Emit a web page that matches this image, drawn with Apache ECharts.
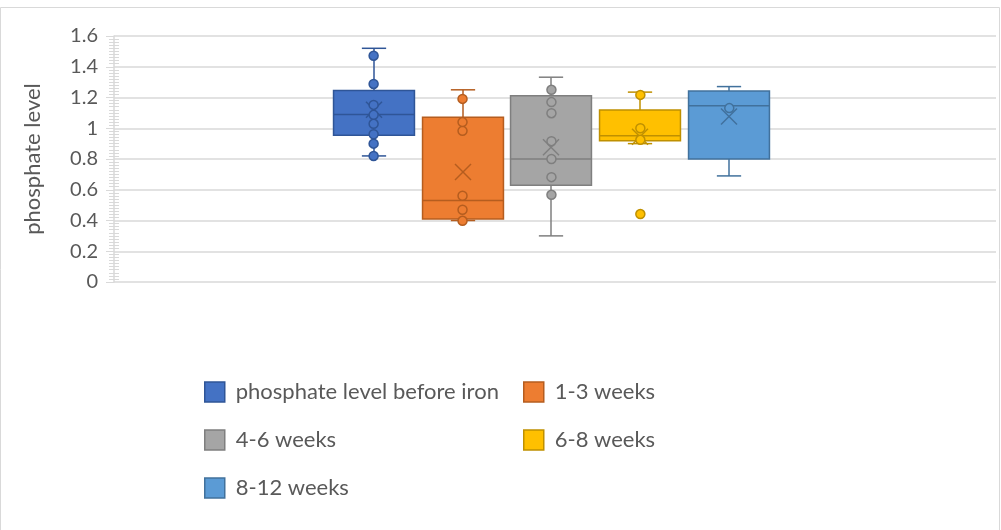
<!DOCTYPE html>
<html>
<head>
<meta charset="utf-8">
<script src="https://cdn.jsdelivr.net/npm/echarts@6/dist/echarts.min.js"></script>
<style>
  html, body { margin: 0; padding: 0; background: #ffffff; }
  #chart { width: 1001px; height: 530px; }
</style>
</head>
<body>
<div id="chart"></div>
<script>
// Groups (one box each)
const groups = ['phosphate level before iron', '1-3 weeks', '4-6 weeks', '6-8 weeks', '8-12 weeks'];

// Box statistics per group
const whiskerLow  = [0.82, 0.40, 0.30, 0.90, 0.69];
const quartile1   = [0.955, 0.41, 0.63, 0.918, 0.80];
const medians     = [1.09, 0.53, 0.80, 0.951, 1.146];
const quartile3   = [1.245, 1.072, 1.211, 1.118, 1.243];
const whiskerHigh = [1.52, 1.25, 1.332, 1.235, 1.271];
const means       = [1.12, 0.715, 0.877, 0.945, 1.076];

// Individual readings shown as dots
const readings = [
  [0.82, 0.90, 0.961, 1.029, 1.087, 1.152, 1.288, 1.472],
  [0.398, 0.47, 0.561, 0.983, 1.04, 1.191],
  [0.567, 0.682, 0.80, 0.916, 1.098, 1.17, 1.25],
  [0.442, 0.925, 1.00, 1.217],
  [1.131]
];

// Y axis scale
const yMin = 0;
const yMax = 1.6;
const yStep = 0.2;

// Office palette: fills and darker outlines
const fills = ['#4472C4', '#ED7D31', '#A5A5A5', '#FFC000', '#5B9BD5'];
const edges = ['#2F5597', '#B55D1F', '#7F7F7F', '#BF9000', '#41719C'];

const FONT = 'Lato, "Open Sans", sans-serif';
const TEXT = '#595959';
const GRID = '#D9D9D9';

function renderBox(params, api) {
  const i = params.seriesIndex;
  const x = api.value(0);
  const lo = api.coord([x, api.value(1)]);
  const q1 = api.coord([x, api.value(2)]);
  const md = api.coord([x, api.value(3)]);
  const q3 = api.coord([x, api.value(4)]);
  const hi = api.coord([x, api.value(5)]);
  const mn = api.coord([x, api.value(6)]);
  const w = api.size([1, 0])[0] * 0.91;
  const cap = w * 0.3;
  const cx = Math.round(lo[0]);
  const stroke = { stroke: edges[i], lineWidth: 1.5 };
  const m = 8;
  return {
    type: 'group',
    children: [
      { type: 'line', shape: { x1: cx, y1: hi[1], x2: cx, y2: q3[1] }, style: stroke },
      { type: 'line', shape: { x1: cx, y1: q1[1], x2: cx, y2: lo[1] }, style: stroke },
      { type: 'line', shape: { x1: cx - cap / 2, y1: hi[1], x2: cx + cap / 2, y2: hi[1] }, style: stroke },
      { type: 'line', shape: { x1: cx - cap / 2, y1: lo[1], x2: cx + cap / 2, y2: lo[1] }, style: stroke },
      { type: 'rect', shape: { x: cx - w / 2, y: q3[1], width: w, height: q1[1] - q3[1] },
        style: { fill: fills[i], stroke: edges[i], lineWidth: 1.5 } },
      { type: 'line', shape: { x1: cx - w / 2, y1: md[1], x2: cx + w / 2, y2: md[1] }, style: stroke },
      { type: 'line', shape: { x1: cx - m, y1: mn[1] - m, x2: cx + m, y2: mn[1] + m }, style: stroke },
      { type: 'line', shape: { x1: cx - m, y1: mn[1] + m, x2: cx + m, y2: mn[1] - m }, style: stroke }
    ]
  };
}

const boxSeries = groups.map((name, i) => ({
  type: 'custom',
  name: name,
  renderItem: renderBox,
  itemStyle: { color: fills[i], borderColor: edges[i] },
  encode: { x: 0, y: [1, 2, 3, 4, 5, 6] },
  data: [[i, whiskerLow[i], quartile1[i], medians[i], quartile3[i], whiskerHigh[i], means[i]]],
  z: 2
}));

const dotSeries = groups.map((name, i) => ({
  type: 'scatter',
  name: name,
  symbol: 'circle',
  symbolSize: 9,
  itemStyle: { color: fills[i], borderColor: edges[i], borderWidth: 1.5, opacity: 1 },
  data: readings[i].map(v => [i, v]),
  z: 3,
  silent: true
}));

const legendItem = i => ({
  name: groups[i],
  itemStyle: { color: fills[i], borderColor: edges[i], borderWidth: 1.5 }
});

const legendCommon = {
  orient: 'vertical',
  top: 381,
  padding: 0,
  icon: 'rect',
  itemWidth: 20,
  itemHeight: 20,
  itemGap: 26,
  textStyle: { fontSize: 22, color: TEXT, fontFamily: FONT, padding: [0, 0, 0, 6] },
  selectedMode: false
};

const option = {
  animation: false,
  backgroundColor: '#ffffff',
  graphic: [{
    type: 'rect',
    shape: { x: 0.5, y: 7.5, width: 999, height: 540 },
    style: { fill: 'none', stroke: GRID, lineWidth: 1 },
    silent: true
  }],
  grid: { left: 114, right: 5, top: 36, height: 246 },
  legend: [
    Object.assign({}, legendCommon, { left: 204, data: [0, 2, 4].map(legendItem) }),
    Object.assign({}, legendCommon, { left: 523, data: [1, 3].map(legendItem) })
  ],
  xAxis: {
    type: 'value',
    min: -2.92,
    max: 7,
    show: false
  },
  yAxis: [{
    type: 'value',
    position: 'left',
    min: yMin,
    max: yMax,
    interval: yStep,
    name: 'phosphate level',
    nameLocation: 'middle',
    nameRotate: 90,
    nameGap: 70,
    nameTextStyle: { fontSize: 22, color: TEXT, fontFamily: FONT },
    axisLine: { show: true, onZero: false, lineStyle: { color: GRID, width: 1.5 } },
    axisTick: { show: true, length: 8, lineStyle: { color: GRID } },
    minorTick: { show: true, splitNumber: 10, length: 5, lineStyle: { color: GRID } },
    splitLine: { show: true, lineStyle: { color: GRID, width: 1.5 } },
    axisLabel: { fontSize: 20, color: TEXT, fontFamily: FONT, margin: 16 }
  }, {
    type: 'value',
    position: 'left',
    offset: 0,
    min: yMin,
    max: yMax,
    interval: yStep,
    axisLine: { show: false, onZero: false },
    axisTick: { show: false, inside: true },
    minorTick: { show: true, splitNumber: 10, length: 5, lineStyle: { color: GRID } },
    splitLine: { show: false },
    axisLabel: { show: false }
  }],
  series: boxSeries.concat(dotSeries)
};

const chart = echarts.init(document.getElementById('chart'), null, { renderer: 'canvas' });
chart.setOption(option);
</script>
</body>
</html>
